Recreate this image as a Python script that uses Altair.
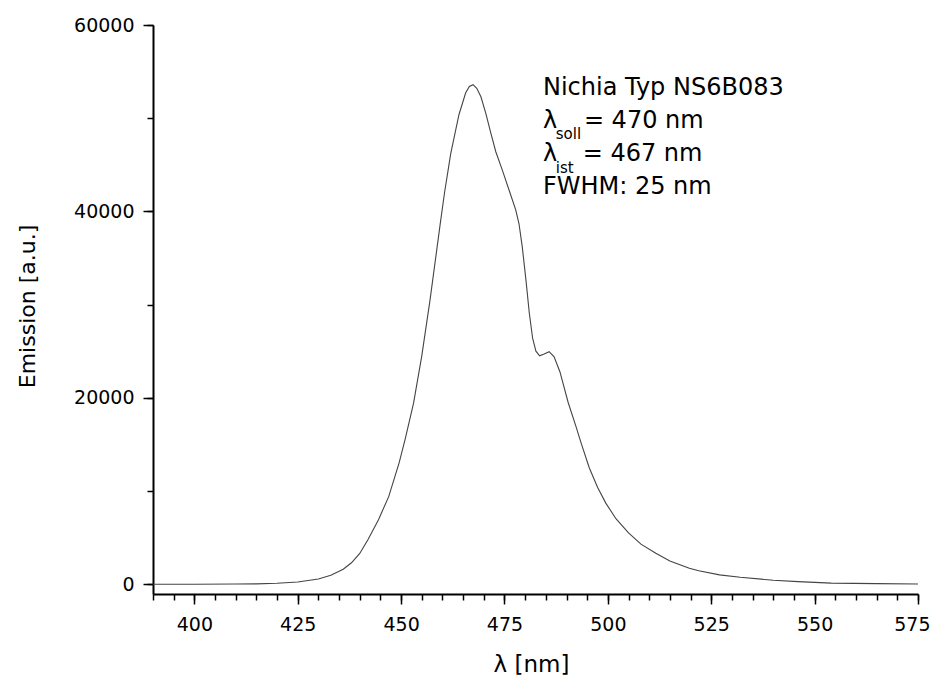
import altair as alt
import pandas as pd

# Spectrum
wavelength = [390, 400, 410, 415, 420, 425, 430, 433, 436, 438, 440, 442, 444.5, 447,
              449.5, 451, 453, 455, 457, 459.5, 460.5, 462, 464, 465.6, 466.5, 467.4,
              468.3, 469.3, 470.5, 471.7, 472.9, 474.5, 476.1, 477.7, 478.5, 479.3,
              480.2, 481, 481.8, 482.6, 483.5, 484.6, 485.8, 487, 488.4, 490.4, 492.3,
              493.5, 495.5, 497.5, 499.5, 502, 505, 508, 511.6, 515, 519.7, 522, 527,
              532, 540, 546, 554, 565, 575]
emission = [0, 0, 20, 40, 100, 230, 560, 950, 1600, 2300, 3300, 4800, 6900, 9400,
            13000, 15600, 19400, 24500, 30500, 38800, 42000, 46200, 50400, 52700, 53400, 53600,
            53200, 52300, 50500, 48400, 46400, 44400, 42300, 40200, 38700, 36200,
            32600, 29100, 26400, 25000, 24500, 24700, 24950, 24400, 22800, 19500, 16900,
            15200, 12500, 10400, 8700, 7000, 5500, 4300, 3330, 2500, 1720, 1450, 1000,
            740, 430, 280, 120, 60, 30]

x_major = [400, 425, 450, 475, 500, 525, 550, 575]
x_minor = list(range(390, 576, 5))
y_major = [0, 20000, 40000, 60000]
y_minor = [0, 10000, 20000, 30000, 40000, 50000, 60000]

note_text = ["Nichia Typ NS6B083", "λ", "soll", "= 470 nm", "λ", "ist", "= 467 nm", "FWHM: 25 nm"]
note_x = [484.3, 484.3, 487.4, 494.2, 484.3, 487.4, 493.9, 484.3]
note_y = [52490, 48950, 47800, 48950, 45410, 44150, 45410, 41920]
note_fs = [24, 24, 15, 24, 24, 15, 24, 24]

df = pd.DataFrame({"nm": wavelength, "em": emission})
notes = pd.DataFrame({"t": note_text, "nm": note_x, "em": note_y, "fs": note_fs})

FONT = "DejaVu Sans"
xs = alt.Scale(domain=[390, 575], nice=False, zero=False)
ys = alt.Scale(domain=[-1050, 60000], nice=False, zero=False)

common = dict(grid=False, domainColor="black", tickColor="black", labelColor="black",
              labelFont=FONT, labelFontSize=19, titleFont=FONT, titleColor="black",
              titleFontWeight="normal")

x_axis_major = alt.Axis(orient="bottom", values=x_major, tickSize=10, tickWidth=1.5,
                        domainWidth=2, labelPadding=11, labelFlush=True, labelFlushOffset=12,
                        labelOverlap=False,
                        format="d", title="λ [nm]", titleFontSize=23, titleX=378, titleY=77,
                        titleBaseline="alphabetic", titleAlign="center",
                        **common)
y_axis_major = alt.Axis(orient="left", values=y_major, tickSize=10, tickWidth=1.5,
                        domainWidth=2, labelPadding=9, labelOverlap=False, format="d",
                        title="Emission [a.u.]", titleFontSize=22, titleX=-119, titleY=281,
                        titleBaseline="alphabetic", titleAlign="center", **common)
x_axis_minor = alt.Axis(orient="bottom", values=x_minor, tickSize=6, tickWidth=1.5,
                        domain=False, labels=False, title=None, grid=False, tickColor="black")
y_axis_minor = alt.Axis(orient="left", values=y_minor, tickSize=6, tickWidth=1.5,
                        domain=False, labels=False, title=None, grid=False, tickColor="black")

line = alt.Chart(df).mark_line(color="#444444", strokeWidth=1.1).encode(
    x=alt.X("nm:Q", scale=xs, axis=x_axis_major),
    y=alt.Y("em:Q", scale=ys, axis=y_axis_major),
)

minor = alt.Chart(df).mark_line(opacity=0).encode(
    x=alt.X("nm:Q", scale=xs, axis=x_axis_minor),
    y=alt.Y("em:Q", scale=ys, axis=y_axis_minor),
)

text = alt.Chart(notes).mark_text(align="left", baseline="alphabetic", font=FONT,
                                  color="black").encode(
    x=alt.X("nm:Q", scale=xs, axis=None),
    y=alt.Y("em:Q", scale=ys, axis=None),
    text="t:N",
    size=alt.Size("fs:Q", scale=None, legend=None),
)

chart = alt.layer(minor, line, text).resolve_axis(
    x="independent", y="independent"
).properties(
    width=765, height=569,
    autosize=alt.AutoSizeParams(type="none"),
    padding={"left": 145, "top": 17, "right": 13, "bottom": 84},
    background="white",
).configure_view(stroke=None)

chart.save("out.html", embed_options={"renderer": "svg", "actions": False})
